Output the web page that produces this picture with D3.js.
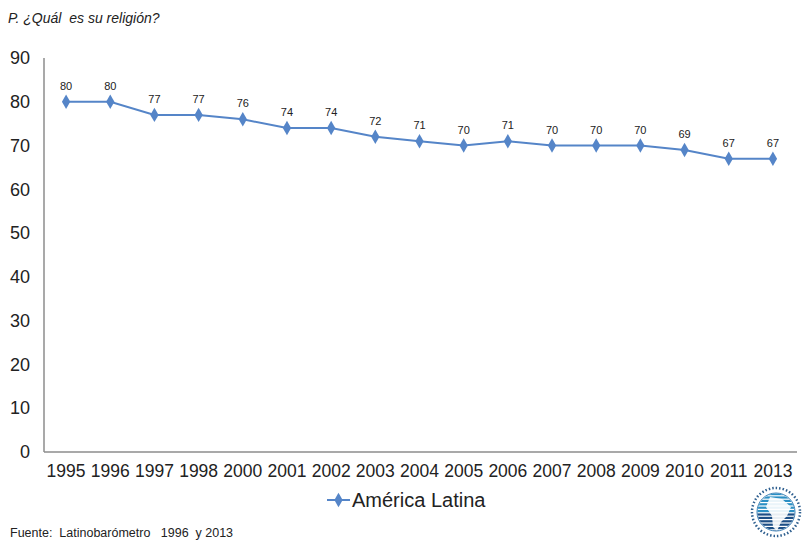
<!DOCTYPE html>
<html>
<head>
<meta charset="utf-8">
<script src="https://cdn.jsdelivr.net/npm/d3@7/dist/d3.min.js"></script>
<style>
  body { margin: 0; background: #fff; }
  svg { display: block; font-family: "Liberation Sans", Arial, sans-serif; }
</style>
</head>
<body>
<svg id="chart" width="806" height="540"></svg>
<script>
// Religious affiliation, Latin America (%)
const years = ["1995","1996","1997","1998","2000","2001","2002","2003","2004","2005","2006","2007","2008","2009","2010","2011","2013"];
const values = [80, 80, 77, 77, 76, 74, 74, 72, 71, 70, 71, 70, 70, 70, 69, 67, 67];
const yTicks = [0, 10, 20, 30, 40, 50, 60, 70, 80, 90];
const seriesName = "América Latina";

const svg = d3.select("#chart");
const lineColor = "#5585c8";

const x = d3.scaleBand().domain(years).range([44, 795]);
const y = d3.scaleLinear().domain([0, 90]).range([452, 58]);

// title
svg.append("text").attr("x", 8).attr("y", 23)
  .attr("font-size", 14).attr("font-style", "italic").attr("fill", "#222")
  .attr("xml:space", "preserve").style("white-space", "pre")
  .text("P. ¿Quál  es su religión?");

// axes lines
svg.append("line").attr("x1", 44).attr("x2", 44).attr("y1", y(90)).attr("y2", y(0))
  .attr("stroke", "#8c8c8c").attr("stroke-width", 1.5);
svg.append("line").attr("x1", 44).attr("x2", 797).attr("y1", y(0)).attr("y2", y(0))
  .attr("stroke", "#8c8c8c").attr("stroke-width", 1.5);

// y tick labels
const yAxis = d3.axisLeft(y).tickValues(yTicks).tickSize(0).tickPadding(0);
const gy = svg.append("g").attr("transform", "translate(30,0)").call(yAxis);
gy.select(".domain").remove();
gy.selectAll("text").attr("font-size", 18).attr("fill", "#222")
  .attr("font-family", "Liberation Sans, Arial, sans-serif");

// x tick labels
const xAxis = d3.axisBottom(x).tickSize(0).tickPadding(0);
const gx = svg.append("g").attr("transform", `translate(0,${y(0) + 13})`).call(xAxis);
gx.select(".domain").remove();
gx.selectAll("text").attr("font-size", 17.5).attr("fill", "#222")
  .attr("font-family", "Liberation Sans, Arial, sans-serif");

const cx = d => x(d) + x.bandwidth() / 2;
const pts = years.map((yr, i) => ({ yr, v: values[i] }));

// series line
svg.append("path").datum(pts)
  .attr("fill", "none").attr("stroke", lineColor).attr("stroke-width", 2)
  .attr("d", d3.line().x(d => cx(d.yr)).y(d => y(d.v)));

// diamond markers
const diamond = d3.symbol().type(d3.symbolDiamond).size(60);
svg.append("g").selectAll("path").data(pts).join("path")
  .attr("d", diamond)
  .attr("transform", d => `translate(${cx(d.yr)},${y(d.v)})`)
  .attr("fill", lineColor);

// value labels
svg.append("g").selectAll("text").data(pts).join("text")
  .attr("x", d => cx(d.yr)).attr("y", d => y(d.v) - 12)
  .attr("text-anchor", "middle").attr("font-size", 11).attr("fill", "#222")
  .text(d => d.v);

// legend
const lg = svg.append("g").attr("transform", "translate(327,500)");
lg.append("line").attr("x1", 0).attr("x2", 23).attr("y1", 0).attr("y2", 0)
  .attr("stroke", lineColor).attr("stroke-width", 2);
lg.append("path").attr("d", diamond).attr("transform", "translate(11.5,0)").attr("fill", lineColor);
lg.append("text").attr("x", 25).attr("y", 7).attr("font-size", 20).attr("fill", "#222")
  .text(seriesName);

// source
svg.append("text").attr("x", 10).attr("y", 537)
  .attr("font-size", 12.5).attr("fill", "#222")
  .attr("xml:space", "preserve").style("white-space", "pre")
  .text("Fuente:  Latinobarómetro   1996  y 2013");

// emblem in the bottom-right corner
const logo = svg.append("g").attr("transform", "translate(776,512)");
logo.append("circle").attr("r", 24).attr("fill", "none")
  .attr("stroke", "#2e5f8f").attr("stroke-width", 2.5).attr("stroke-dasharray", "1.5 2");
logo.append("circle").attr("r", 19).attr("fill", "#fff").attr("stroke", "#3b7fb5").attr("stroke-width", 1);
const clip = svg.append("defs").append("clipPath").attr("id", "logoclip");
clip.append("circle").attr("cx", 776).attr("cy", 512).attr("r", 18.5);
const stripes = svg.append("g").attr("clip-path", "url(#logoclip)");
d3.range(-19, 20, 3.4).forEach(o => {
  stripes.append("rect").attr("x", 756).attr("y", 512 + o).attr("width", 40).attr("height", 2.2)
    .attr("fill", o < 0 ? "#2b8fc4" : "#1d4f86");
});
stripes.append("path")
  .attr("d", "M770,497 L782,499 L791,507 L787,516 L781,522 L777,531 L773,527 L772,516 L766,507 Z")
  .attr("fill", "#fff").attr("opacity", 0.9);
</script>
</body>
</html>
